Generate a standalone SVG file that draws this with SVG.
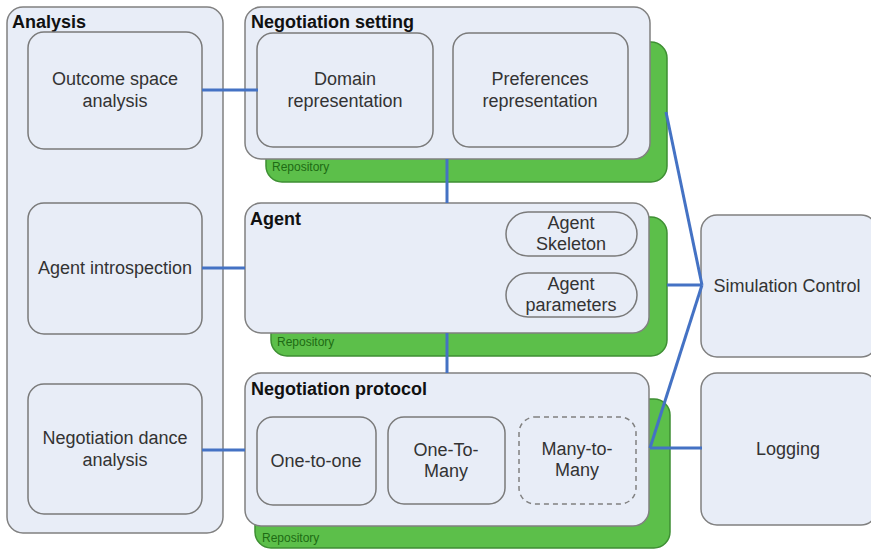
<svg xmlns="http://www.w3.org/2000/svg" width="871" height="550" viewBox="0 0 871 550">
<style>
.box{fill:#E8EDF7;stroke:#808080;stroke-width:1.5}
.inner{fill:#E8EDF7;stroke:#7a7a7a;stroke-width:1.5}
.dash{fill:#E8EDF7;stroke:#808080;stroke-width:1.5;stroke-dasharray:5,4}
.repo{fill:#5CBF4A;stroke:#3E8F33;stroke-width:1.5}
.t{font-family:"Liberation Sans",Arial,sans-serif;font-size:18px;fill:#333;text-anchor:middle}
.h{font-family:"Liberation Sans",Arial,sans-serif;font-size:18px;font-weight:bold;fill:#111}
.r{font-family:"Liberation Sans",Arial,sans-serif;font-size:12px;fill:#1E6B14}
.c{stroke:#4472C4;stroke-width:3;fill:none}
</style>
<rect width="871" height="550" fill="#fff"/>
<g id="analysis">
<rect class="box" x="7" y="7" width="216" height="526" rx="16"/>
<text class="h" x="12" y="28">Analysis</text>
</g>
<g id="outcome">
<rect class="inner" x="28" y="32" width="174" height="117" rx="16"/>
<text class="t" x="115" y="85">Outcome space</text>
<text class="t" x="115" y="107">analysis</text>
</g>
<g id="introspection">
<rect class="inner" x="28" y="203" width="174" height="131" rx="16"/>
<text class="t" x="115" y="274">Agent introspection</text>
</g>
<g id="dance">
<rect class="inner" x="28" y="384" width="174" height="130" rx="16"/>
<text class="t" x="115" y="444">Negotiation dance</text>
<text class="t" x="115" y="466">analysis</text>
</g>
<g id="setting-repo">
<rect class="repo" x="266" y="42" width="401" height="140" rx="16"/>
<text class="r" x="272" y="171">Repository</text>
</g>
<g id="setting">
<rect class="box" x="245" y="7" width="405" height="152" rx="16"/>
<text class="h" x="251" y="28">Negotiation setting</text>
</g>
<g id="domain">
<rect class="inner" x="257" y="33" width="176" height="114" rx="16"/>
<text class="t" x="345" y="85">Domain</text>
<text class="t" x="345" y="107">representation</text>
</g>
<g id="preferences">
<rect class="inner" x="453" y="33" width="175" height="114" rx="16"/>
<text class="t" x="540" y="85">Preferences</text>
<text class="t" x="540" y="107">representation</text>
</g>
<g id="agent-repo">
<rect class="repo" x="271" y="217" width="396" height="139" rx="16"/>
<text class="r" x="277" y="346">Repository</text>
</g>
<g id="agent">
<rect class="box" x="245" y="203" width="404" height="130" rx="16"/>
<text class="h" x="250" y="225">Agent</text>
</g>
<g id="skeleton">
<rect class="inner" x="506" y="212" width="131" height="44" rx="22"/>
<text class="t" x="571" y="229">Agent</text>
<text class="t" x="571" y="250">Skeleton</text>
</g>
<g id="parameters">
<rect class="inner" x="506" y="273" width="131" height="44" rx="22"/>
<text class="t" x="571" y="290">Agent</text>
<text class="t" x="571" y="311">parameters</text>
</g>
<g id="protocol-repo">
<rect class="repo" x="255" y="399" width="415" height="149" rx="16"/>
<text class="r" x="262" y="542">Repository</text>
</g>
<g id="protocol">
<rect class="box" x="245" y="373" width="404" height="153" rx="16"/>
<text class="h" x="251" y="395">Negotiation protocol</text>
</g>
<g id="one-to-one">
<rect class="inner" x="257" y="417" width="119" height="88" rx="16"/>
<text class="t" x="316" y="467">One-to-one</text>
</g>
<g id="one-to-many">
<rect class="inner" x="388" y="417" width="117" height="87" rx="16"/>
<text class="t" x="446" y="456">One-To-</text>
<text class="t" x="446" y="477">Many</text>
</g>
<g id="many-to-many">
<rect class="dash" x="519" y="417" width="117" height="87" rx="16"/>
<text class="t" x="577" y="455">Many-to-</text>
<text class="t" x="577" y="476">Many</text>
</g>
<g id="simulation">
<rect class="box" x="701" y="215" width="176" height="142" rx="16"/>
<text class="t" x="787" y="292">Simulation Control</text>
</g>
<g id="logging">
<rect class="box" x="701" y="373" width="176" height="152" rx="16"/>
<text class="t" x="788" y="455">Logging</text>
</g>
<g id="connectors">
<line class="c" x1="202" y1="90" x2="258" y2="90"/>
<line class="c" x1="202" y1="268" x2="245" y2="268"/>
<line class="c" x1="202" y1="450" x2="245" y2="450"/>
<line class="c" x1="447" y1="159" x2="447" y2="203"/>
<line class="c" x1="447" y1="333" x2="447" y2="373"/>
<line class="c" x1="666" y1="112" x2="702" y2="285"/>
<line class="c" x1="667" y1="285" x2="702" y2="285"/>
<line class="c" x1="650" y1="448" x2="702" y2="285"/>
<line class="c" x1="650" y1="448" x2="702" y2="448"/>
</g>
</svg>
